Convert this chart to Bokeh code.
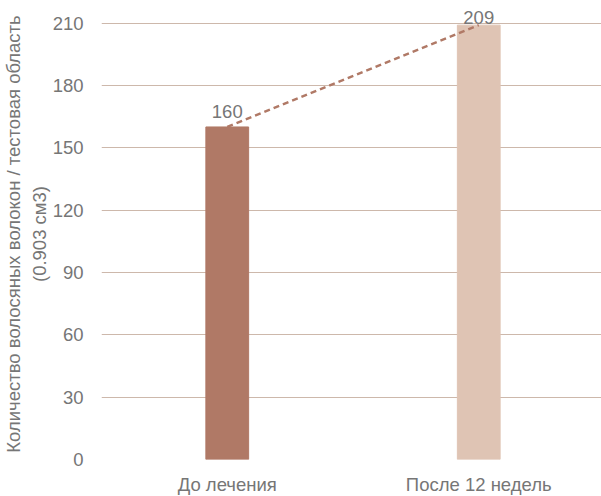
from bokeh.plotting import figure
from bokeh.models import ColumnDataSource, Range1d, FixedTicker
from bokeh.embed import file_html
from bokeh.resources import INLINE
from bokeh.core.properties import value

categories = ["До лечения", "После 12 недель"]
values = [160, 209]
colors = ["#b07966", "#dfc4b4"]
y_ticks = [0, 30, 60, 90, 120, 150, 180, 210]
y_label = "Количество волосяных волокон / тестовая область\n(0.903 см3)"

TXT = "#767676"
FONT = "Liberation Sans"
FS = "18.5px"

src = ColumnDataSource(dict(cat=categories, val=values, color=colors,
                            label=[str(v) for v in values]))
src1 = ColumnDataSource(dict(cat=categories[:1], val=values[:1], label=[str(values[0])]))
src2 = ColumnDataSource(dict(cat=categories[1:], val=values[1:], label=[str(values[1])]))

p = figure(x_range=categories, y_range=Range1d(0, 217),
           frame_width=503, frame_height=451,
           output_backend="svg", toolbar_location=None,
           min_border_left=92, min_border_right=0, min_border_top=8, min_border_bottom=30)

p.vbar(x="cat", top="val", width=0.17, color="color", source=src)
p.line(x="cat", y="val", source=src, line_color="#b07966", line_width=2.5, line_dash="6 4")
p.text(x="cat", y="val", text="label", source=src1, text_align="center",
       text_baseline="bottom", y_offset=-9, text_color=TXT,
       text_font=value(FONT), text_font_size=FS)
p.text(x="cat", y="val", text="label", source=src2, text_align="center",
       text_baseline="bottom", y_offset=-1, text_color=TXT,
       text_font=value(FONT), text_font_size=FS)

p.outline_line_color = None
p.xgrid.grid_line_color = None
p.ygrid.grid_line_color = "#cdb8ab"
p.ygrid.grid_line_width = 1.2
p.yaxis.ticker = FixedTicker(ticks=y_ticks)

for ax in (p.xaxis, p.yaxis):
    ax.axis_line_color = None
    ax.major_tick_line_color = None
    ax.minor_tick_line_color = None
    ax.major_label_text_color = TXT
    ax.major_label_text_font = FONT
    ax.major_label_text_font_size = FS

p.yaxis.major_label_standoff = 12
p.xaxis.major_label_standoff = 8
p.yaxis.axis_label = y_label
p.yaxis.axis_label_text_font = FONT
p.yaxis.axis_label_text_font_size = FS
p.yaxis.axis_label_text_font_style = "normal"
p.yaxis.axis_label_text_color = TXT
p.yaxis.axis_label_standoff = 0

open("out.html", "w").write(file_html(p, INLINE))
